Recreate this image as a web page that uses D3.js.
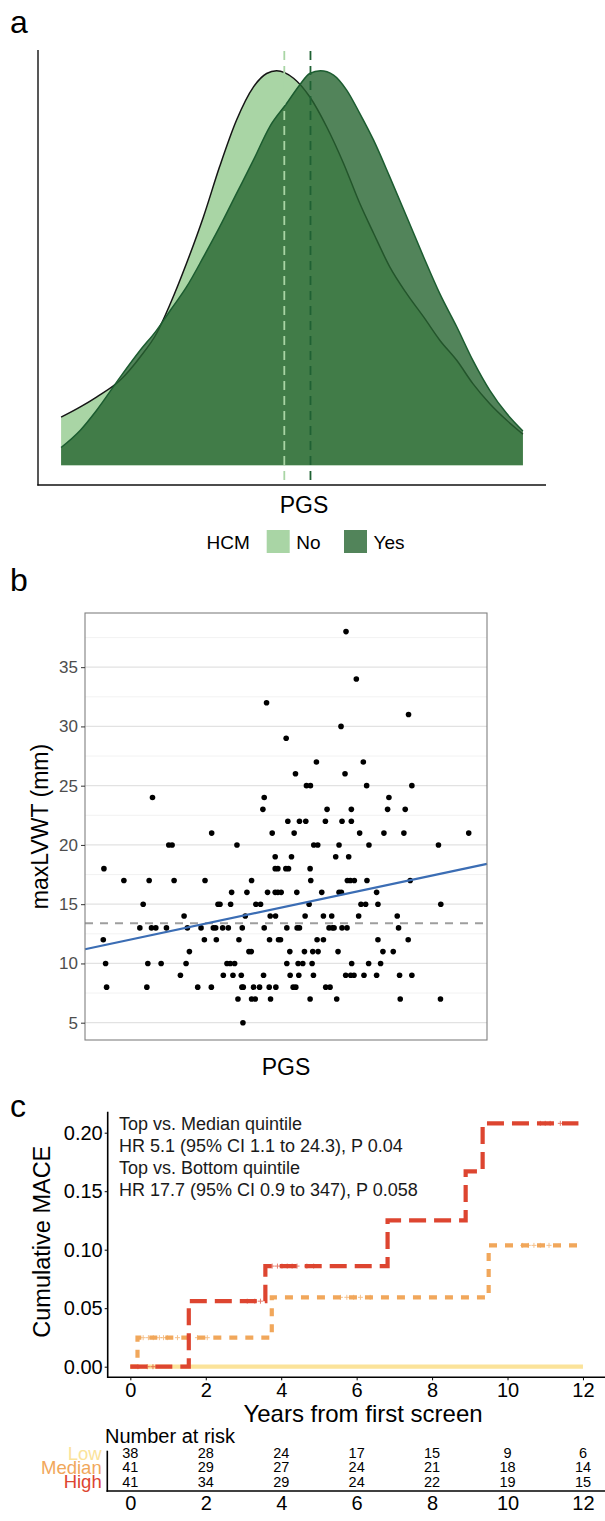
<!DOCTYPE html>
<html lang="en">
<head>
    <meta charset="UTF-8">
    <title>PGS, maxLVWT and MACE</title>
    <script src="https://cdn.jsdelivr.net/npm/d3@7"></script>
    <style>
        body { margin: 0; background: #fff; }
        text { font-family: "Liberation Sans", Arial, Helvetica, sans-serif; }
    </style>
</head>
<body>

<script>

    // Data ////////////////////////////////////

    // a: density of PGS (SD units) by HCM status, relative to the highest peak
    var densNoPGS = [-3.00, -2.75, -2.54, -2.23, -1.97, -1.76, -1.58, -1.37, -1.15, -0.94, -0.72, -0.50, -0.33, -0.20,
        0.02, 0.23, 0.45, 0.67, 0.88, 1.06, 1.27, 1.49, 1.71, 1.92, 2.14, 2.35, 2.57, 2.79, 3.00];
    var densNo = [0.122, 0.148, 0.173, 0.216, 0.275, 0.334, 0.410, 0.512, 0.630, 0.757, 0.875, 0.959, 0.993, 1.000,
        0.981, 0.934, 0.858, 0.765, 0.664, 0.588, 0.503, 0.435, 0.376, 0.317, 0.266, 0.207, 0.156, 0.114, 0.079];
    var densYesPGS = [-3.00, -2.75, -2.54, -2.23, -1.97, -1.76, -1.58, -1.37, -1.15, -0.94, -0.72, -0.50, -0.29, -0.07,
        0.10, 0.23, 0.37, 0.54, 0.71, 0.88, 1.06, 1.27, 1.49, 1.71, 1.92, 2.14, 2.35, 2.57, 2.79, 3.00];
    var densYes = [0.045, 0.089, 0.139, 0.224, 0.292, 0.342, 0.393, 0.452, 0.528, 0.604, 0.689, 0.774, 0.858, 0.917,
        0.964, 0.993, 1.000, 0.989, 0.951, 0.892, 0.824, 0.731, 0.630, 0.528, 0.435, 0.351, 0.266, 0.190, 0.131, 0.087];
    var hcmGroups = ['No', 'Yes'];
    var hcmMeans = [-0.10, 0.24];

    // b: maxLVWT (mm) against PGS (arbitrary units), one row per wall thickness
    var scatterRows = [
        [38, [180]],
        [34, [211]],
        [32, [-59]],
        [31, [368]],
        [30, [165]],
        [29, [0]],
        [27, [91, 232]],
        [26, [28, 177]],
        [25, [61, 73, 242, 378]],
        [24, [-402, -66, 309]],
        [23, [-70, 123, 196, 305, 358]],
        [22, [5, 40, 59, 118, 168, 196]],
        [21, [-224, -42, 24, 221, 294, 354, 549]],
        [20, [-353, -343, -148, 83, 95, 159, 249, 458]],
        [19, [-33, 16, 149, 188]],
        [18, [-548, -33, -25, -1, 7, 72]],
        [17, [-488, -412, -337, -244, -104, 74, 184, 193, 205, 243, 373]],
        [16, [-164, -118, -56, -33, -25, -15, 32, 107, 159, 166, 272]],
        [15, [-430, -205, -199, -167, -91, -77, 69, 225, 239, 276, 465]],
        [14, [-307, -123, -48, -32, 57, 112, 137, 218, 334]],
        [13, [-440, -405, -392, -360, -297, -256, -219, -212, -191, -174, -132, -66, 2, 33, 40, 129, 139, 144, 168, 183, 338]],
        [12, [-550, -246, -210, -142, -50, -23, -17, 93, 112, 276, 367]],
        [11, [-291, -112, -105, 11, 55, 80, 96, 156, 291, 322]],
        [10, [-543, -416, -376, -301, -178, -168, -155, 2, 36, 50, 78, 197, 248, 284]],
        [9, [-318, -189, -160, -135, -68, 12, 38, 82, 179, 194, 204, 234, 272, 341, 378]],
        [8, [-540, -419, -266, -225, -133, -129, -98, -80, -51, -31, 21, 29, 119, 132]],
        [7, [-145, -104, -93, -47, 72, 152, 343, 464]],
        [5, [-130]]
    ];
    var lvwtTicks = [5, 10, 15, 20, 25, 30, 35];
    var fitIntercept = 14.8;   // mm at PGS 0
    var fitSlope = 0.00596;    // mm per PGS unit
    var meanLVWT = 13.4;

    // c: cumulative MACE by PGS quintile
    var kmGroups = ['Low', 'Median', 'High'];
    var kmColors = ['#fbe39a', '#f1a75b', '#dd4530'];
    var kmTimes = [[0], [0, 0.19, 3.75, 9.50], [0, 1.55, 3.58, 6.82, 8.89, 9.34]];
    var kmCum = [[0], [0, 0.0248, 0.0593, 0.1037], [0, 0.056, 0.086, 0.125, 0.167, 0.208]];
    var kmEnd = [12.0, 11.97, 11.88];
    var kmCensor = [
        [],
        [0.34, 0.48, 0.61, 0.77, 0.88, 0.98, 1.25, 1.51, 1.78, 2.04, 5.57, 5.74, 5.92, 6.10, 6.36, 10.40, 10.55, 10.70, 10.87, 11.10],
        [0.20, 0.45, 0.60, 3.10, 3.30, 3.45, 3.76, 3.90, 4.02, 4.16, 4.29, 4.42, 4.68, 4.86, 10.87, 11.00, 11.13, 11.40]
    ];
    var yearTicks = [0, 2, 4, 6, 8, 10, 12];
    var maceTicks = [0, 0.05, 0.10, 0.15, 0.20];
    var atRisk = [
        [38, 28, 24, 17, 15, 9, 6],
        [41, 29, 27, 24, 21, 18, 14],
        [41, 34, 29, 24, 22, 19, 15]
    ];
    var hrLines = [
        'Top vs. Median quintile',
        'HR 5.1 (95% CI 1.1 to 24.3), P 0.04',
        'Top vs. Bottom quintile',
        'HR 17.7 (95% CI 0.9 to 347), P 0.058'
    ];

    var svg = d3.select('body').append('svg').attr('width', 605).attr('height', 1521);

    function panelLabel(txt, y) {
        svg.append('text').attr('x', 10).attr('y', y).style('font-size', '32px').text(txt);
    }

    //________________________________________________
    // a: density
    //________________________________________________
    panelLabel('a', 33);
    var gA = svg.append('g');
    var xA = d3.scaleLinear().domain([-3.3, 3.3]).range([38, 546]);
    var yA = d3.scaleLinear().domain([-0.05, 1.05]).range([485, 51]);

    var noPts = densNoPGS.map(function (d, i) { return [d, densNo[i]]; });
    var yesPts = densYesPGS.map(function (d, i) { return [d, densYes[i]]; });

    var area = d3.area().curve(d3.curveMonotoneX)
        .x(function (d) { return xA(d[0]); })
        .y0(yA(0))
        .y1(function (d) { return yA(d[1]); });
    var line = d3.line().curve(d3.curveMonotoneX)
        .x(function (d) { return xA(d[0]); })
        .y(function (d) { return yA(d[1]); });

    gA.append('path').attr('d', area(noPts)).style('fill', '#a9d5a5');
    gA.append('path').attr('d', line(noPts)).style('fill', 'none').style('stroke', '#151515').style('stroke-width', 1.5);
    gA.append('path').attr('d', area(yesPts)).style('fill', 'rgb(39,101,49)').style('fill-opacity', 0.8);
    gA.append('path').attr('d', line(yesPts)).style('fill', 'none').style('stroke', '#1c5c30').style('stroke-width', 1.5);

    // group means
    var meanColors = ['#a9d5a5', '#1f6133'];
    hcmMeans.forEach(function (m, i) {
        gA.append('line')
            .attr('x1', xA(m)).attr('x2', xA(m))
            .attr('y1', 51).attr('y2', 485)
            .style('stroke', meanColors[i]).style('stroke-width', 1.8)
            .style('stroke-dasharray', '9,6');
    });

    // axes
    gA.append('line').attr('x1', 38).attr('x2', 38).attr('y1', 50).attr('y2', 485.5)
        .style('stroke', '#111').style('stroke-width', 1.4);
    gA.append('line').attr('x1', 37.3).attr('x2', 546).attr('y1', 485).attr('y2', 485)
        .style('stroke', '#111').style('stroke-width', 1.4);
    gA.append('text').attr('x', 304).attr('y', 513).style('text-anchor', 'middle')
        .style('font-size', '23px').text('PGS');

    // legend
    var legendX = [266.7, 344];
    var legendFills = ['#a9d5a5', 'rgba(39,101,49,0.8)'];
    gA.append('text').attr('x', 206.5).attr('y', 548.5).style('font-size', '19px').text('HCM');
    hcmGroups.forEach(function (g, i) {
        gA.append('rect').attr('x', legendX[i]).attr('y', 530).attr('width', 23).attr('height', 23)
            .style('fill', legendFills[i]);
        gA.append('text').attr('x', legendX[i] + 29.5).attr('y', 548.5).style('font-size', '19px').text(g);
    });

    //________________________________________________
    // b: scatter
    //________________________________________________
    panelLabel('b', 591);
    var gB = svg.append('g');
    var pts = [];
    scatterRows.forEach(function (r) {
        r[1].forEach(function (p) { pts.push({pgs: p, lvwt: r[0]}); });
    });
    var ext = d3.extent(pts, function (d) { return d.pgs; });
    var pad = (ext[1] - ext[0]) * 0.05;
    var xB = d3.scaleLinear().domain([ext[0] - pad, ext[1] + pad]).range([85, 487]);
    var yB = d3.scaleLinear().domain([3.54, 39.57]).range([1040, 613]);

    var minor = d3.range(7.5, 39, 5);
    gB.selectAll('line.minor').data(minor).enter().append('line')
        .attr('class', 'minor')
        .attr('x1', 85).attr('x2', 487)
        .attr('y1', function (d) { return yB(d); }).attr('y2', function (d) { return yB(d); })
        .style('stroke', '#f0f0f0').style('stroke-width', 0.9);
    gB.selectAll('line.major').data(lvwtTicks).enter().append('line')
        .attr('class', 'major')
        .attr('x1', 85).attr('x2', 487)
        .attr('y1', function (d) { return yB(d); }).attr('y2', function (d) { return yB(d); })
        .style('stroke', '#e2e2e2').style('stroke-width', 1.3);

    gB.append('line')
        .attr('x1', 85).attr('x2', 487)
        .attr('y1', yB(meanLVWT)).attr('y2', yB(meanLVWT))
        .style('stroke', '#9e9e9e').style('stroke-width', 2).style('stroke-dasharray', '8,7');

    gB.selectAll('circle').data(pts).enter().append('circle')
        .attr('cx', function (d) { return xB(d.pgs); })
        .attr('cy', function (d) { return yB(d.lvwt); })
        .attr('r', 2.8)
        .style('fill', '#000');

    var xd = xB.domain();
    gB.append('line')
        .attr('x1', xB(xd[0])).attr('x2', xB(xd[1]))
        .attr('y1', yB(fitIntercept + fitSlope * xd[0]))
        .attr('y2', yB(fitIntercept + fitSlope * xd[1]))
        .style('stroke', '#3b6db4').style('stroke-width', 2.2);

    gB.append('rect').attr('x', 85).attr('y', 613).attr('width', 402).attr('height', 427)
        .style('fill', 'none').style('stroke', '#808080').style('stroke-width', 1.1);

    var axB = gB.append('g').attr('transform', 'translate(85,0)')
        .call(d3.axisLeft(yB).tickValues(lvwtTicks).tickSize(4).tickPadding(3));
    axB.select('.domain').remove();
    axB.selectAll('line').style('stroke', '#333');
    axB.selectAll('text').style('font-size', '17px').style('fill', '#4d4d4d')
        .style('font-family', '"Liberation Sans", Arial, sans-serif');

    gB.append('text').attr('transform', 'translate(40,826.5) rotate(-90)')
        .attr('dy', '0.35em').style('text-anchor', 'middle').style('font-size', '23px').text('maxLVWT (mm)');
    gB.append('text').attr('x', 286).attr('y', 1075).style('text-anchor', 'middle')
        .style('font-size', '23px').text('PGS');

    //________________________________________________
    // c: cumulative incidence
    //________________________________________________
    panelLabel('c', 1117);
    var gC = svg.append('g');
    var xC = d3.scaleLinear().domain([-0.6, 12.6]).range([107.7, 605.6]);
    var yC = d3.scaleLinear().domain([0, 0.20]).range([1366.7, 1132.7]);

    var stepLine = d3.line().curve(d3.curveStepAfter)
        .x(function (d) { return xC(d[0]); })
        .y(function (d) { return yC(d[1]); });
    var dashes = [null, '8,8', '17,8'];

    kmGroups.forEach(function (g, i) {
        var p = kmTimes[i].map(function (t, j) { return [t, kmCum[i][j]]; });
        p.push([kmEnd[i], kmCum[i][kmCum[i].length - 1]]);
        gC.append('path').attr('d', stepLine(p))
            .style('fill', 'none').style('stroke', kmColors[i]).style('stroke-width', 4.2)
            .style('stroke-dasharray', dashes[i]);

        // censor ticks
        gC.selectAll('path.cens' + i).data(kmCensor[i]).enter().append('path')
            .attr('class', 'cens' + i)
            .attr('d', 'M-2.5,0H2.5M0,-2.5V2.5')
            .attr('transform', function (t) {
                var k = d3.bisectRight(kmTimes[i], t) - 1;
                return 'translate(' + xC(t) + ',' + yC(kmCum[i][k]) + ')';
            })
            .style('stroke', kmColors[i]).style('stroke-width', 1).style('opacity', 0.7);
    });

    // axes
    gC.append('line').attr('x1', 107.7).attr('x2', 107.7).attr('y1', 1111.7).attr('y2', 1378)
        .style('stroke', '#000').style('stroke-width', 1.6);
    gC.append('line').attr('x1', 107).attr('x2', 605).attr('y1', 1377.3).attr('y2', 1377.3)
        .style('stroke', '#000').style('stroke-width', 1.6);

    var axCy = gC.append('g').attr('transform', 'translate(107.7,0)')
        .call(d3.axisLeft(yC).tickValues(maceTicks).tickFormat(d3.format('.2f')).tickSize(3).tickPadding(2));
    axCy.select('.domain').remove();
    axCy.selectAll('text').style('font-size', '20px').style('fill', '#000')
        .style('font-family', '"Liberation Sans", Arial, sans-serif');

    var axCx = gC.append('g').attr('transform', 'translate(0,1377.3)')
        .call(d3.axisBottom(xC).tickValues(yearTicks).tickFormat(d3.format('d')).tickSize(3).tickPadding(3));
    axCx.select('.domain').remove();
    axCx.selectAll('text').style('font-size', '20px').style('fill', '#000')
        .style('font-family', '"Liberation Sans", Arial, sans-serif');

    gC.append('text').attr('transform', 'translate(41.7,1241.7) rotate(-90)')
        .attr('dy', '0.35em').style('text-anchor', 'middle').style('font-size', '23.5px').text('Cumulative MACE');
    gC.append('text').attr('x', 363).attr('y', 1421.5).style('text-anchor', 'middle')
        .style('font-size', '24px').text('Years from first screen');

    gC.selectAll('text.hr').data(hrLines).enter().append('text')
        .attr('class', 'hr')
        .attr('x', 119)
        .attr('y', function (d, i) { return 1129.8 + i * 22; })
        .style('font-size', '18px').style('fill', '#1a1a1a')
        .text(function (d) { return d; });

    // risk table
    var gT = svg.append('g');
    gT.append('text').attr('x', 105).attr('y', 1442.5).style('font-size', '20px').text('Number at risk');
    var rowY = [1453.3, 1467.4, 1481.6];
    kmGroups.forEach(function (g, i) {
        gT.append('text').attr('x', 101.7).attr('y', rowY[i] + 6.6)
            .style('text-anchor', 'end').style('font-size', '18.5px').style('fill', kmColors[i]).text(g);
        gT.selectAll('text.r' + i).data(atRisk[i]).enter().append('text')
            .attr('class', 'r' + i)
            .attr('x', function (d, j) { return xC(yearTicks[j]); })
            .attr('y', rowY[i] + 5)
            .style('text-anchor', 'middle').style('font-size', '14.5px')
            .text(function (d) { return d; });
    });
    gT.append('line').attr('x1', 107.3).attr('x2', 107.3).attr('y1', 1450.7).attr('y2', 1491.8)
        .style('stroke', '#000').style('stroke-width', 1.6);
    gT.append('line').attr('x1', 106.5).attr('x2', 605).attr('y1', 1491).attr('y2', 1491)
        .style('stroke', '#000').style('stroke-width', 1.6);
    var axT = gT.append('g').attr('transform', 'translate(0,1491)')
        .call(d3.axisBottom(xC).tickValues(yearTicks).tickFormat(d3.format('d')).tickSize(0).tickPadding(5));
    axT.select('.domain').remove();
    axT.selectAll('text').style('font-size', '20px').style('fill', '#000')
        .style('font-family', '"Liberation Sans", Arial, sans-serif');

</script>

</body>
</html>
